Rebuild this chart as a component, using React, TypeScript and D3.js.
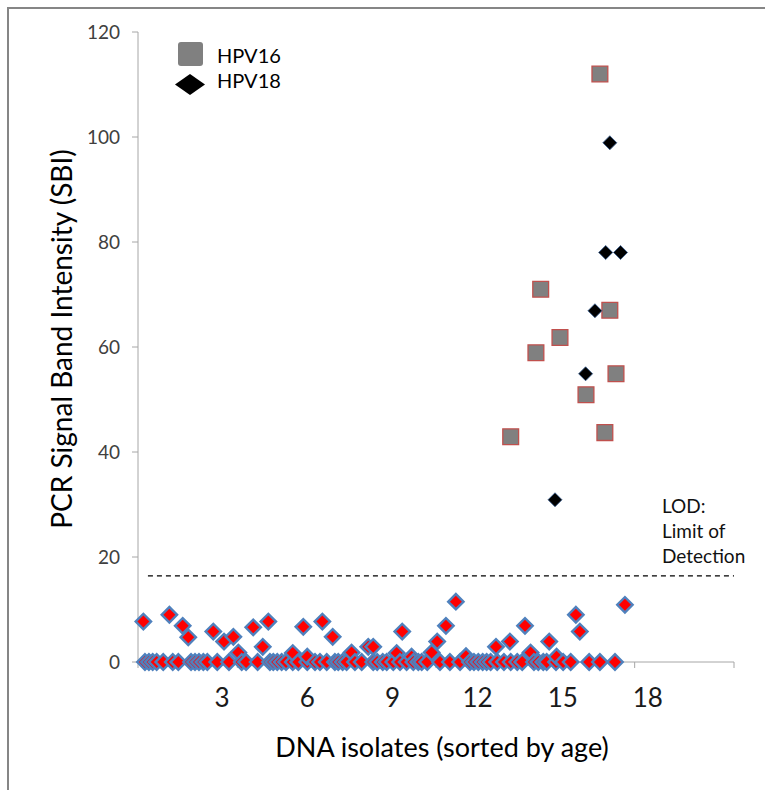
import React from 'react';
import { scaleLinear, symbol, symbolSquare, range } from 'd3';

// isolates below the limit of detection that read as zero
const zeroIsolates = [
  0.35, 0.55, 0.74, 0.94, 1.27, 1.75, 2.03, 2.67, 2.87, 3.07, 3.29, 3.49, 3.99,
  4.58, 5.22, 5.44, 6.02, 6.64, 6.81, 7.01, 7.23, 7.45, 7.79, 8.07, 8.52, 8.91,
  9.16, 9.5, 9.91, 10.08, 10.3, 10.5, 10.92, 11.26, 11.84, 12.04, 12.32, 12.52,
  12.85, 13.19, 13.52, 13.86, 14.11, 14.28, 14.56, 15.2, 15.7, 16.21, 16.71,
  16.91, 17.13, 17.35, 17.55, 17.75, 18.08, 18.42, 18.76, 19.09, 19.34, 19.93,
  20.15, 20.4, 20.57, 21.04, 21.4, 21.78, 22.71, 23.25, 24.01,
];

// weak bands under the LOD: [isolate, SBI]
const weakBands = [
  [0.27, 7.7], [1.58, 9.0], [2.25, 6.9], [2.53, 4.7], [3.79, 5.8], [4.33, 3.9],
  [4.8, 4.8], [5.05, 1.8], [5.8, 6.6], [6.28, 2.9], [6.56, 7.7], [7.79, 1.7],
  [8.32, 6.7], [8.52, 1.0], [9.28, 7.7], [9.8, 4.8], [10.75, 1.8], [11.59, 2.9],
  [11.84, 2.9], [13.02, 1.7], [13.3, 5.8], [13.77, 1.0], [14.78, 1.8],
  [15.06, 3.9], [15.5, 6.9], [16.0, 11.5], [16.51, 1.1], [18.02, 2.9],
  [18.72, 3.9], [19.48, 6.9], [19.76, 1.8], [20.7, 3.9], [21.07, 1.0],
  [22.04, 9.0], [22.24, 5.8], [24.51, 10.9],
];

const hpv16 = [
  [23.25, 112], [20.27, 71], [23.75, 67], [21.24, 61.8], [20.03, 58.9],
  [24.06, 54.9], [22.55, 50.9], [23.5, 43.7], [18.76, 42.9],
];

const hpv18 = [
  [23.75, 98.9], [23.54, 78], [24.29, 78], [23.0, 66.9], [22.53, 54.9], [20.99, 30.9],
];

const yTicks = [0, 20, 40, 60, 80, 100, 120];
const xTickLabels = [3, 6, 9, 12, 15, 18];
const lod = 16.4;
const lodText = ['LOD:', 'Limit of', 'Detection'];

const width = 765;
const height = 790;
const font = "Lato, 'Open Sans', sans-serif";

const xScale = scaleLinear().domain([0, 30]).range([138, 734]);
// the printed isolate labels sit on their own spacing
const labelScale = scaleLinear().domain([0, 21]).range([137, 733]);
const yScale = scaleLinear().domain([0, 120]).range([662, 32]);

const redDiamond = symbol().type(symbolSquare).size(118)();
const blackDiamond = symbol().type(symbolSquare).size(98)();
const square = symbol().type(symbolSquare).size(250)();

const App = () => {
  const lowPoints = zeroIsolates
    .map(x => [x, 0])
    .concat(weakBands)
    .sort((a, b) => a[0] - b[0]);

  return (
    <svg
      width={width}
      height={height}
      style={{ position: 'absolute', left: 0, top: 0, background: '#fff' }}
    >
      {/* chart frame, cut off by the picture */}
      <rect x={8} y={8} width={800} height={820} fill="none" stroke="#868686" strokeWidth={2} />

      {/* y axis */}
      <line x1={xScale(0)} x2={xScale(0)} y1={yScale(120)} y2={yScale(0)} stroke="#a6a6a6" />
      {yTicks.map(t => (
        <g key={t} transform={`translate(0,${yScale(t)})`}>
          <line x1={xScale(0) - 6} x2={xScale(0)} stroke="#a6a6a6" />
          <text x={120} dy="0.35em" textAnchor="end" fontFamily={font} fontSize={19} fill="#404040">
            {t}
          </text>
        </g>
      ))}

      {/* x axis */}
      <line x1={xScale(0)} x2={xScale(30)} y1={yScale(0)} y2={yScale(0)} stroke="#a6a6a6" />
      {range(0, 31, 5).map(t => (
        <line key={t} x1={xScale(t)} x2={xScale(t)} y1={yScale(0)} y2={yScale(0) + 6} stroke="#a6a6a6" />
      ))}
      {xTickLabels.map(t => (
        <text key={t} x={labelScale(t)} y={707} textAnchor="middle" fontFamily={font} fontSize={26} fill="#1a1a1a">
          {t}
        </text>
      ))}

      <text x={442} y={757} textAnchor="middle" fontFamily={font} fontSize={27}>
        DNA isolates (sorted by age)
      </text>
      <text
        transform="translate(72,339) rotate(-90)"
        textAnchor="middle"
        fontFamily={font}
        fontSize={28}
      >
        PCR Signal Band Intensity (SBI)
      </text>

      {/* limit of detection */}
      <line
        x1={xScale(0.5)}
        x2={xScale(30)}
        y1={yScale(lod)}
        y2={yScale(lod)}
        stroke="#000"
        strokeWidth={1.3}
        strokeDasharray="5,4"
      />
      {lodText.map((s, i) => (
        <text key={s} x={662} y={513 + i * 25} fontFamily={font} fontSize={19} fill="#111">
          {s}
        </text>
      ))}

      {/* points */}
      {lowPoints.map((d, i) => (
        <path
          key={'l' + i}
          d={redDiamond}
          transform={`translate(${xScale(d[0])},${yScale(d[1])}) rotate(45)`}
          fill="#ff0000"
          stroke="#4f81bd"
          strokeWidth={2.4}
        />
      ))}
      {hpv16.map((d, i) => (
        <path
          key={'a' + i}
          d={square}
          transform={`translate(${xScale(d[0])},${yScale(d[1])})`}
          fill="#808080"
          stroke="#c0504d"
          strokeWidth={1.3}
        />
      ))}
      {hpv18.map((d, i) => (
        <path
          key={'b' + i}
          d={blackDiamond}
          transform={`translate(${xScale(d[0])},${yScale(d[1])}) rotate(45)`}
          fill="#000"
          stroke="#3a5f8f"
          strokeWidth={0.8}
        />
      ))}

      {/* legend */}
      <rect x={178} y={42} width={25} height={24} rx={3} fill="#808080" />
      <text x={217} y={56} dy="0.35em" fontFamily={font} fontSize={20}>HPV16</text>
      <path d="M190,74 L205,84.5 L190,95 L175,84.5 Z" fill="#000" />
      <text x={217} y={80.5} dy="0.35em" fontFamily={font} fontSize={20}>HPV18</text>
    </svg>
  );
};

export default App;
